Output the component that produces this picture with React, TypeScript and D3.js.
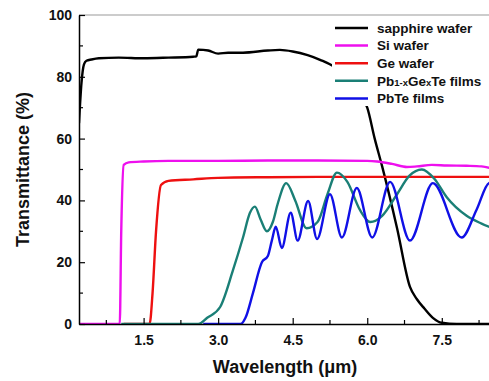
import React, { useRef, useEffect } from 'react';
import * as d3 from 'd3';

// sapphire wafer
const sapphireX = [0.2, 0.25, 0.3, 0.35, 0.45, 0.6, 1.0, 1.5, 2.0, 2.5, 2.56, 2.6, 2.8, 3.0, 3.2, 3.5, 4.0, 4.24, 4.5, 4.8, 5.05, 5.35, 5.7, 6.0, 6.15, 6.3, 6.6, 6.86, 7.0, 7.15, 7.32, 7.5, 7.8, 8.6];
const sapphireT = [65, 78, 84, 85.2, 85.6, 86, 86.2, 86, 86.2, 86.5, 86.6, 88.8, 88.5, 87.5, 87.8, 87.8, 88.5, 88.7, 88.2, 87, 85.5, 83, 77, 70, 60, 51, 31, 12, 8, 5, 2, 0.4, 0, 0];

// Si wafer
const siX = [0.2, 1.02, 1.05, 1.1, 1.2, 1.5, 2.0, 3.0, 4.0, 5.0, 6.0, 6.2, 6.5, 6.8, 7.0, 7.3, 7.6, 8.0, 8.3, 8.6];
const siT = [0, 0, 30, 51.5, 52.3, 52.6, 52.8, 52.8, 52.9, 52.9, 52.8, 52.6, 51.8, 50.8, 51, 51.5, 51.3, 51.2, 51, 50];

// Ge wafer
const geX = [1.1, 1.62, 1.68, 1.75, 1.85, 2.0, 2.5, 3.0, 4.0, 5.0, 6.0, 7.0, 8.6];
const geT = [0, 0, 10, 30, 45, 46.3, 46.8, 47.3, 47.5, 47.6, 47.6, 47.6, 47.6];

// Pb1-xGexTe films
const pbgeX = [1.05, 2.6, 2.78, 3.04, 3.3, 3.5, 3.64, 3.74, 3.85, 3.98, 4.1, 4.2, 4.37, 4.55, 4.78, 5.0, 5.2, 5.39, 5.6, 5.85, 6.06, 6.3, 6.6, 6.85, 7.1, 7.35, 7.6, 8.0, 8.3, 8.6];
const pbgeT = [0, 0, 2, 5.5, 17.5, 28, 36, 38, 34, 30, 33, 39, 45.6, 40, 31, 33, 42, 49, 46, 37, 33, 35, 42, 48, 50, 47, 41, 35, 32.5, 30.5];

// PbTe films
const pbteX = [2.7, 3.45, 3.55, 3.7, 3.88, 4.0, 4.08, 4.16, 4.28, 4.46, 4.6, 4.81, 4.99, 5.25, 5.49, 5.79, 6.1, 6.46, 6.86, 7.32, 7.9, 8.2, 8.45, 8.6];
const pbteT = [0, 0, 2, 10, 20, 22, 27, 31.5, 24.6, 36, 27, 39.8, 27.5, 42, 28, 44, 28, 46, 27, 45.6, 28, 37, 45.6, 46];

const xTicks = [1.5, 3.0, 4.5, 6.0, 7.5];
const yTicks = [0, 20, 40, 60, 80, 100];

const series = [
    { name: 'sapphire wafer', color: '#000000', xs: sapphireX, ys: sapphireT },
    { name: 'Si wafer', color: '#ee10ee', xs: siX, ys: siT },
    { name: 'Ge wafer', color: '#ee1010', xs: geX, ys: geT },
    { name: 'Pb1-xGexTe films', color: '#1a7f76', xs: pbgeX, ys: pbgeT },
    { name: 'PbTe films', color: '#1010e6', xs: pbteX, ys: pbteT },
];

export default function App() {
    const svgRef = useRef<SVGSVGElement | null>(null);

    useEffect(() => {
        document.body.style.margin = '0';
        if (!svgRef.current) return;
        const svg = d3.select(svgRef.current);
        svg.selectAll("*").remove();

        const W = 489, H = 381;
        const margin = { top: 15, right: 0, bottom: 57, left: 79 };
        const width = W - margin.left - margin.right;
        const height = H - margin.top - margin.bottom;
        const font = 'Arial, "Liberation Sans", sans-serif';

        const x = d3.scaleLinear().domain([0.2, 8.45]).range([0, width]);
        const y = d3.scaleLinear().domain([0, 100]).range([height, 0]);

        const g = svg.append("g").attr("transform", `translate(${margin.left},${margin.top})`);

        g.append("clipPath").attr("id", "plotclip")
            .append("rect").attr("x", 0).attr("y", -2).attr("width", width).attr("height", height + 2);

        // top frame
        g.append("line").attr("x1", 0).attr("x2", width).attr("y1", 0).attr("y2", 0)
            .attr("stroke", "#999").attr("stroke-width", 1);

        const line = d3.line<[number, number]>()
            .x(d => x(d[0]))
            .y(d => y(d[1]))
            .curve(d3.curveMonotoneX);

        const plot = g.append("g").attr("clip-path", "url(#plotclip)");
        series.forEach(s => {
            const pts = s.xs.map((v, i) => [v, s.ys[i]] as [number, number]);
            plot.append("path")
                .attr("d", line(pts))
                .attr("fill", "none")
                .attr("stroke", s.color)
                .attr("stroke-width", 2.4)
                .attr("stroke-linejoin", "round");
        });

        // axes
        const xAxis = g.append("g").attr("transform", `translate(0,${height})`)
            .call(d3.axisBottom(x).tickValues(xTicks).tickSizeInner(-6).tickSizeOuter(0).tickPadding(10).tickFormat(d3.format(".1f")));
        xAxis.select(".domain").attr("stroke", "#000").attr("stroke-width", 1.5);
        xAxis.selectAll(".tick line").attr("stroke", "#000").attr("stroke-width", 1.2);
        xAxis.selectAll("text").attr("font-family", font).attr("font-size", 14).attr("font-weight", "bold").attr("fill", "#111").attr("dy", "0.75em");
        const xMinor = d3.range(0.75, 8.5, 1.5);
        xAxis.selectAll(".minor").data(xMinor).enter().append("line")
            .attr("x1", d => x(d)).attr("x2", d => x(d)).attr("y1", 0).attr("y2", -4)
            .attr("stroke", "#000").attr("stroke-width", 1.2);

        const yAxis = g.append("g")
            .call(d3.axisLeft(y).tickValues(yTicks).tickSizeInner(-6).tickSizeOuter(0).tickPadding(7));
        yAxis.select(".domain").attr("stroke", "#000").attr("stroke-width", 1.5);
        yAxis.selectAll(".tick line").attr("stroke", "#000").attr("stroke-width", 1.2);
        yAxis.selectAll("text").attr("font-family", font).attr("font-size", 14).attr("font-weight", "bold").attr("fill", "#111");
        yAxis.selectAll(".minor").data([10, 30, 50, 70, 90]).enter().append("line")
            .attr("x1", 0).attr("x2", 4).attr("y1", d => y(d)).attr("y2", d => y(d))
            .attr("stroke", "#000").attr("stroke-width", 1.2);

        // axis titles
        svg.append("text")
            .attr("transform", `translate(29,${margin.top + height / 2}) rotate(-90)`)
            .attr("text-anchor", "middle")
            .attr("font-family", font).attr("font-size", 18).attr("font-weight", "bold").attr("fill", "#111")
            .text("Transmittance (%)");
        svg.append("text")
            .attr("x", 285).attr("y", 373)
            .attr("text-anchor", "middle")
            .attr("font-family", font).attr("font-size", 18).attr("font-weight", "bold").attr("fill", "#111")
            .text("Wavelength (\u03bcm)");

        // legend
        const lg = svg.append("g");
        lg.append("rect").attr("x", 332).attr("y", 18).attr("width", 160).attr("height", 88).attr("fill", "#fff");
        series.forEach((s, i) => {
            const ly = 28 + i * 17.6;
            lg.append("line").attr("x1", 335).attr("x2", 368).attr("y1", ly).attr("y2", ly)
                .attr("stroke", s.color).attr("stroke-width", 2.5);
            const t = lg.append("text").attr("x", 377).attr("y", ly + 4.8)
                .attr("font-family", font).attr("font-size", 13.5).attr("font-weight", "bold").attr("fill", "#111");
            if (s.name === 'Pb1-xGexTe films') {
                t.append("tspan").text("Pb");
                t.append("tspan").attr("font-size", 9.5).text("1-x");
                t.append("tspan").text("Ge");
                t.append("tspan").attr("font-size", 9.5).text("x");
                t.append("tspan").text("Te films");
            } else {
                t.text(s.name);
            }
        });
    }, []);

    return (
        <div style={{ width: '489px', height: '381px' }}>
            <svg ref={svgRef} width={489} height={381} style={{ display: 'block' }}></svg>
        </div>
    );
}
